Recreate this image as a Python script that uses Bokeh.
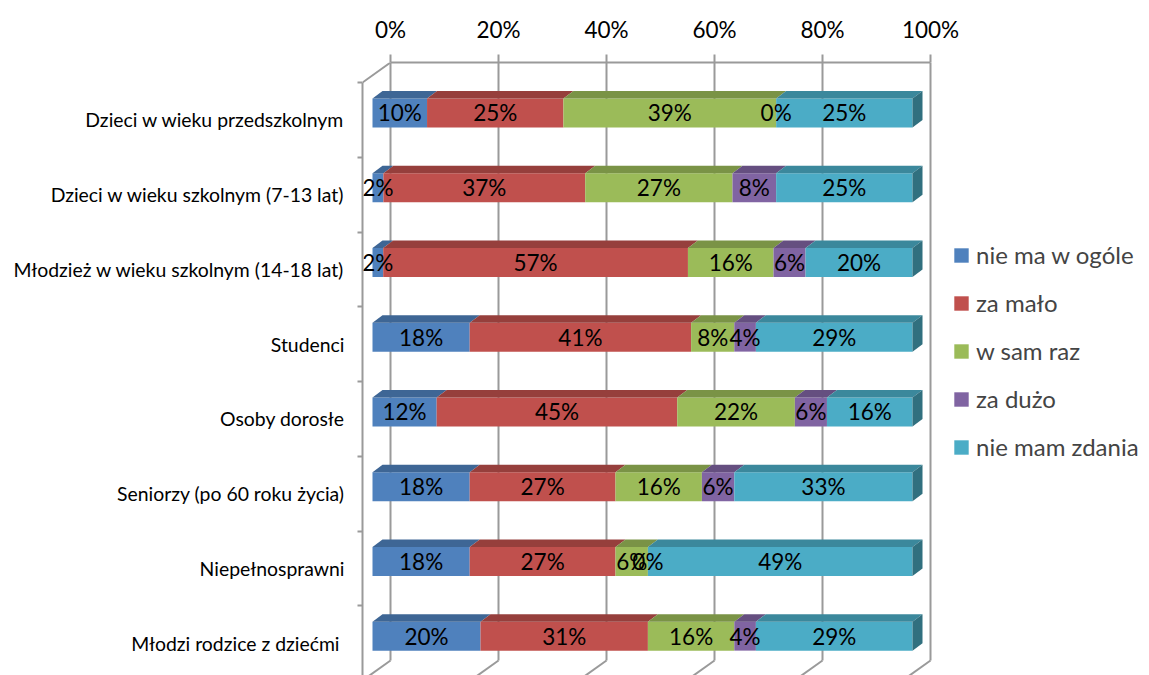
from bokeh.plotting import figure
from bokeh.models import (Range1d, LinearAxis, FixedTicker, PrintfTickFormatter,
                          Legend, LegendItem, ColumnDataSource)
from bokeh.core.properties import value
from bokeh.embed import file_html
from bokeh.resources import INLINE

# ---------------- data ----------------
categories = [
    "Dzieci w wieku przedszkolnym",
    "Dzieci w wieku szkolnym (7-13 lat)",
    "Młodzież w wieku szkolnym (14-18 lat)",
    "Studenci",
    "Osoby dorosłe",
    "Seniorzy (po 60 roku życia)",
    "Niepełnosprawni",
    "Młodzi rodzice  z dziećmi",
]
series_names = ["nie ma w ogóle", "za mało", "w sam raz", "za dużo", "nie mam zdania"]
nie_ma_w_ogole = [10, 2, 2, 18, 12, 18, 18, 20]
za_malo = [25, 37, 57, 41, 45, 27, 27, 31]
w_sam_raz = [39, 27, 16, 8, 22, 16, 6, 16]
za_duzo = [0, 8, 6, 4, 6, 6, 0, 4]
nie_mam_zdania = [25, 25, 20, 29, 16, 33, 49, 29]
x_ticks = [0, 20, 40, 60, 80, 100]

series_values = [nie_ma_w_ogole, za_malo, w_sam_raz, za_duzo, nie_mam_zdania]
front_colors = ["#4F81BD", "#C0504D", "#9BBB59", "#8064A2", "#4BACC6"]
top_colors = ["#3E6695", "#963F3C", "#7A9346", "#654F80", "#3B889C"]
end_color = "#31707F"
wall_color = "#9A9A9A"
FONT_NAME = "Lato"
FONT = value(FONT_NAME)

# ---------------- geometry (pixels -> data units) ----------------
W, H = 1149, 675
BORDER_LEFT, BORDER_TOP = 362, 62
PX_X = 5.4      # pixels per percent
PX_Y = 74.75    # pixels per category
FRAME_W = W - BORDER_LEFT
FRAME_H = H - BORDER_TOP

WALL_DX = 28 / PX_X
WALL_DY = 20 / PX_Y
BAR_SHIFT = 10 / PX_X          # bar front plane vs wall front plane
BACK_SHIFT = WALL_DX - BAR_SHIFT
BAR_LIFT = 7 / PX_Y
BAR_HALF = 14.5 / PX_Y
DEPTH_X = 10 / PX_X
DEPTH_Y = 7.5 / PX_Y

x_start = -BAR_SHIFT
x_end = x_start + FRAME_W / PX_X
y_top = -0.5 - WALL_DY
y_bottom = y_top + FRAME_H / PX_Y

p = figure(width=W, height=H,
           x_range=Range1d(x_start, x_end), y_range=Range1d(y_bottom, y_top),
           x_axis_type=None, y_axis_type=None,
           toolbar_location=None, output_backend="svg",
           min_border_left=BORDER_LEFT, min_border_top=BORDER_TOP,
           min_border_right=0, min_border_bottom=0,
           outline_line_color=None)
p.extra_x_ranges = {"back": Range1d(x_start - BACK_SHIFT, x_end - BACK_SHIFT)}

# ---------------- axes ----------------
top_axis = LinearAxis(x_range_name="back",
                      ticker=FixedTicker(ticks=x_ticks),
                      formatter=PrintfTickFormatter(format="%d%%"),
                      bounds=(0, 100),
                      major_tick_out=8, major_tick_in=0,
                      minor_tick_out=0, minor_tick_in=0,
                      axis_line_color=wall_color, axis_line_width=2,
                      major_tick_line_color=wall_color, major_tick_line_width=2,
                      major_label_standoff=12,
                      major_label_text_font=FONT_NAME,
                      major_label_text_font_size="22.5px",
                      major_label_text_color="black")
p.add_layout(top_axis, "above")

n = len(categories)
left_axis = LinearAxis(ticker=FixedTicker(ticks=list(range(n)),
                                          minor_ticks=[k - 0.5 for k in range(n + 1)]),
                       major_label_overrides={k: c for k, c in enumerate(categories)},
                       bounds=(-0.5, n - 0.5),
                       major_tick_out=0, major_tick_in=0,
                       minor_tick_out=5, minor_tick_in=0,
                       axis_line_color=wall_color, axis_line_width=2,
                       minor_tick_line_color=wall_color, minor_tick_line_width=2,
                       major_label_standoff=13,
                       major_label_text_font=FONT_NAME,
                       major_label_text_font_size="19.4px",
                       major_label_text_color="black")
p.add_layout(left_axis, "left")

# ---------------- walls ----------------
back_bottom = n - 0.5 - WALL_DY
p.segment(x0=x_ticks, y0=[y_top] * len(x_ticks), x1=x_ticks, y1=[back_bottom] * len(x_ticks),
          x_range_name="back", line_color=wall_color, line_width=2)
p.segment(x0=x_ticks, y0=[back_bottom] * len(x_ticks),
          x1=[t - WALL_DX for t in x_ticks], y1=[n - 0.5] * len(x_ticks),
          x_range_name="back", line_color=wall_color, line_width=2)
p.segment(x0=[0], y0=[y_top], x1=[-WALL_DX], y1=[-0.5],
          x_range_name="back", line_color=wall_color, line_width=2)

# ---------------- bars ----------------
totals = [sum(s[i] for s in series_values) for i in range(n)]
cum = [0.0] * n
legend_items = []
label_x, label_y, label_t = [], [], []
for j, vals in enumerate(series_values):
    left = [cum[i] / totals[i] * 100 for i in range(n)]
    for i in range(n):
        cum[i] += vals[i]
    right = [cum[i] / totals[i] * 100 for i in range(n)]
    ftop = [k - BAR_LIFT - BAR_HALF for k in range(n)]
    fbot = [k - BAR_LIFT + BAR_HALF for k in range(n)]
    src = ColumnDataSource(dict(left=left, right=right, top=ftop, bottom=fbot))
    r = p.quad(left="left", right="right", top="top", bottom="bottom", source=src,
               fill_color=front_colors[j], line_color=None)
    legend_items.append(LegendItem(label=series_names[j], renderers=[r]))
    xs = [[l, rr, rr + DEPTH_X, l + DEPTH_X] for l, rr in zip(left, right)]
    ys = [[t, t, t - DEPTH_Y, t - DEPTH_Y] for t in ftop]
    p.patches(xs=xs, ys=ys, fill_color=top_colors[j], line_color=None)
    if j == len(series_values) - 1:
        exs = [[rr, rr + DEPTH_X, rr + DEPTH_X, rr] for rr in right]
        eys = [[t, t - DEPTH_Y, b - DEPTH_Y, b] for t, b in zip(ftop, fbot)]
        p.patches(xs=exs, ys=eys, fill_color=end_color, line_color=None)
    for i in range(n):
        label_x.append((left[i] + right[i]) / 2)
        label_y.append(i - BAR_LIFT)
        label_t.append(f"{vals[i]}%")

p.text(x=label_x, y=label_y, text=label_t, text_align="center", text_baseline="middle",
       text_font=FONT, text_font_size="22.5px", text_color="black")

legend = Legend(items=legend_items, location=(590, 214),
                glyph_width=18, glyph_height=18, label_height=18,
                spacing=19, padding=10, label_standoff=6,
                label_text_font=FONT_NAME, label_text_font_size="24px",
                border_line_color=None, background_fill_alpha=0)
p.add_layout(legend, "center")

open("out.html", "w").write(file_html(p, INLINE))
